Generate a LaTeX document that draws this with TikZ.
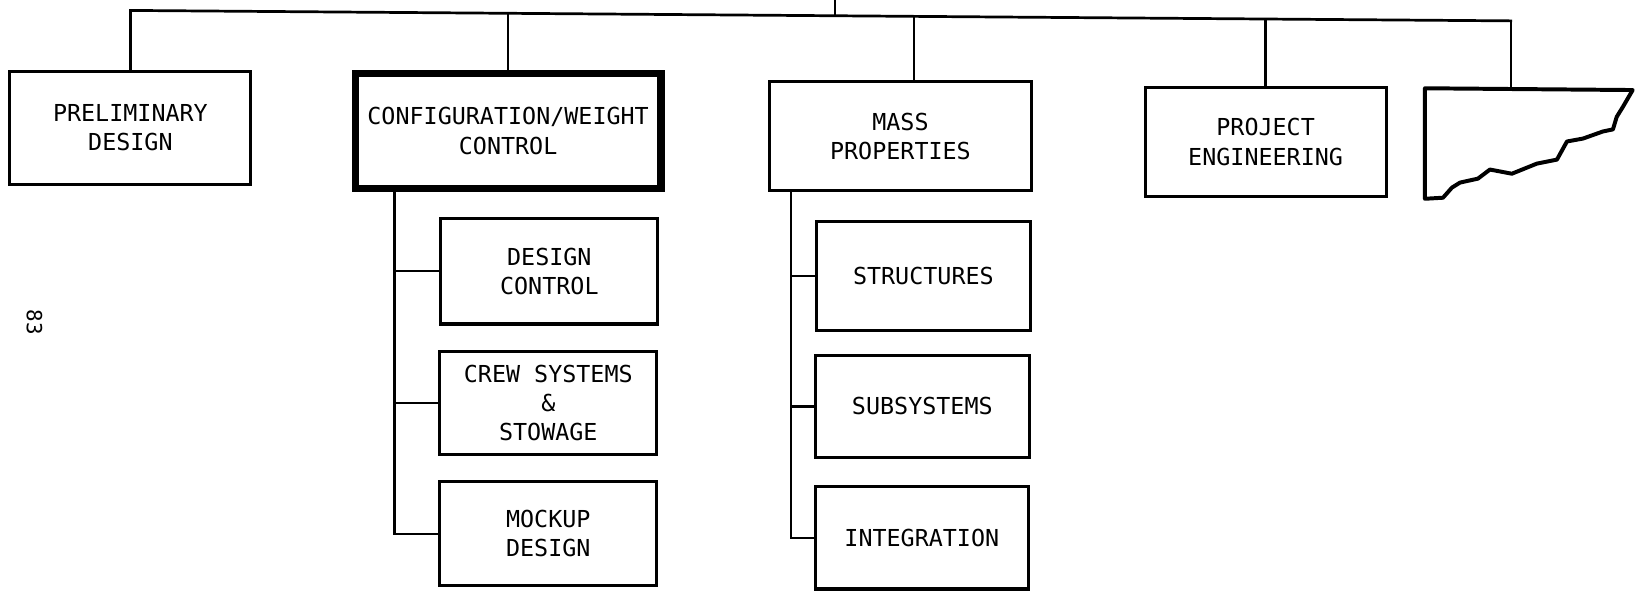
\documentclass[tikz,border=0pt]{standalone}
\usepackage{fontspec}
\newfontfamily\lbl{DejaVu Sans Mono}
\begin{document}
\begin{tikzpicture}[x=0.5pt,y=-0.5pt,
  lblfont/.style={font=\lbl\fontsize{11.2}{14}\selectfont},
  box/.style={draw, line width=1.5pt, inner sep=0pt, align=center, lblfont},
  headbox/.style={box, line width=3.5pt},
  wire/.style={line width=1.1pt, line cap=rect},
  torn/.style={line width=1.9pt, line join=round}]
\useasboundingbox (0,0) rectangle (1568,568);

% first-level boxes
\node[box, minimum width=115.5pt, minimum height=54pt] (prelim) at (125,122.5) {PRELIMINARY\\DESIGN};
\node[headbox, minimum width=146.5pt, minimum height=55pt] (config) at (487,125.5) {CONFIGURATION/WEIGHT\\CONTROL};
\node[box, minimum width=125.5pt, minimum height=52pt] (mass) at (863,130.5) {MASS\\PROPERTIES};
\node[box, minimum width=115.5pt, minimum height=52.5pt] (proj) at (1213,136) {PROJECT\\ENGINEERING};

% torn-off box at the right end
\draw[torn] (1564.8,86.3) -- (1365.7,84.6) -- (1365.7,190.5) -- (1383,189.5)
  -- (1391.6,179.8) -- (1399.3,175) -- (1416.5,171.2) -- (1428,162.5)
  -- (1449,166.5) -- (1473,156.8) -- (1492.2,153) -- (1497,144.3)
  -- (1501.8,135.6) -- (1517.2,132.8) -- (1536.3,126) -- (1545.9,124)
  -- (1549.5,112) -- (1555.5,102.3) -- cycle;
\coordinate (tornTop) at (1448,85.3);

% sub-boxes under configuration/weight control
\node[box, minimum width=104pt, minimum height=50.5pt] (dc) at (526.5,260) {DESIGN\\CONTROL};
\node[box, minimum width=104pt, minimum height=49.5pt] (crew) at (525.5,386) {CREW SYSTEMS\\\&\\STOWAGE};
\node[box, minimum width=104pt, minimum height=50pt] (mock) at (525.5,511.5) {MOCKUP\\DESIGN};

% sub-boxes under mass properties
\node[box, minimum width=102.5pt, minimum height=52pt] (str) at (885,264.5) {STRUCTURES};
\node[box, minimum width=102.5pt, minimum height=49pt] (sub) at (884,389.5) {SUBSYSTEMS};
\node[box, minimum width=102pt, minimum height=49pt] (int) at (883.5,515.5) {INTEGRATION};

% top bus and its branches
\coordinate (root) at (800,0);
\coordinate (busL) at (125,10);
\coordinate (busR) at (1448,20);
\coordinate (b0) at (800,15.1);
\coordinate (b2) at (487,12.7);
\coordinate (b3) at (876,15.7);
\coordinate (b4) at (1213,18.2);
\draw[wire, line width=1.3pt] (busL) -- (busR);
\draw[wire] (root) -- (b0);
\draw[wire] (busL) -- (prelim.north);
\draw[wire] (b2) -- (config.north);
\draw[wire] (b3) -- (b3 |- mass.north);
\draw[wire] (b4) -- (proj.north);
\draw[wire] (busR) -- (tornTop);

% bracket under configuration/weight control
\coordinate (cfgx) at (378,0);
\draw[wire] (cfgx |- config.south) |- (mock.west);
\draw[wire] (cfgx |- dc.west) -- (dc.west);
\draw[wire] (cfgx |- crew.west) -- (crew.west);

% bracket under mass properties
\coordinate (massx) at (758,0);
\draw[wire] (massx |- mass.south) |- (int.west);
\draw[wire] (massx |- str.west) -- (str.west);
\draw[wire] (massx |- sub.west) -- (sub.west);

% page number
\node[font=\lbl\fontsize{10}{12}\selectfont, rotate=-90] (page) at (33,309) {83};
\end{tikzpicture}
\end{document}
